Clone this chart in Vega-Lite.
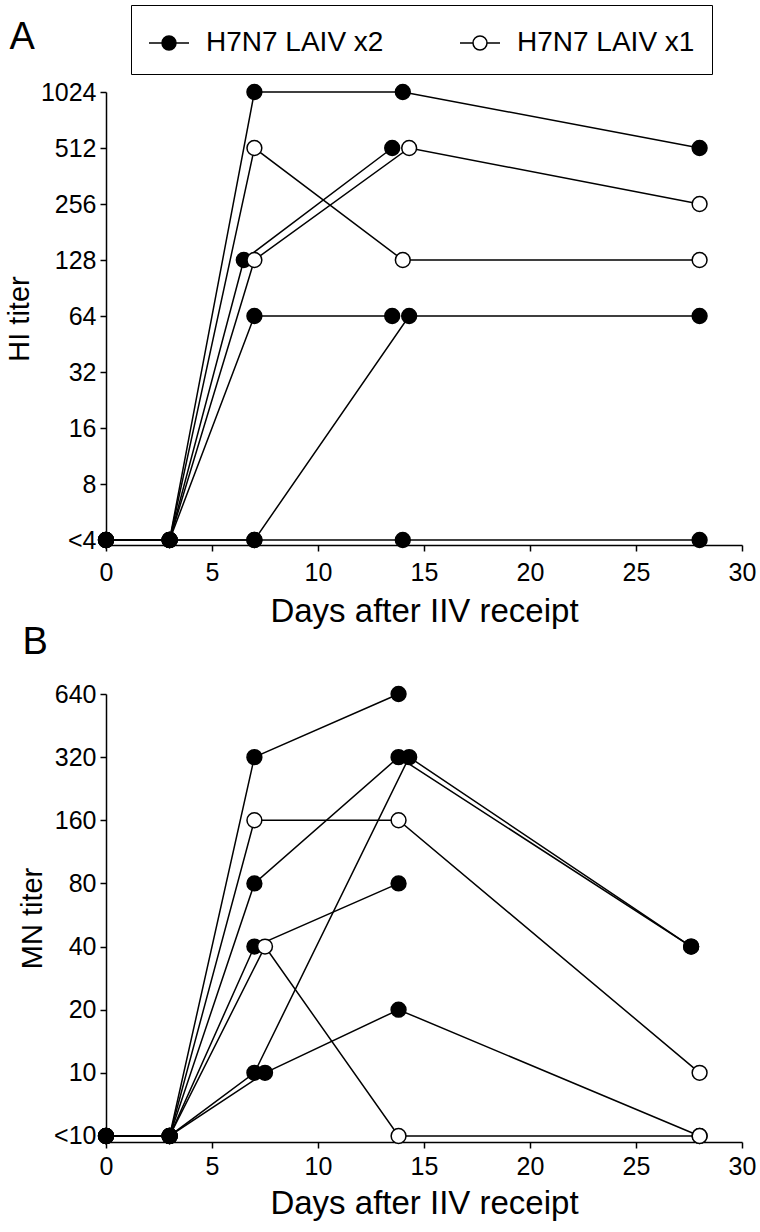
{
  "$schema": "https://vega.github.io/schema/vega-lite/v6.json",
  "background": "white",
  "padding": {"left": 5, "top": 4, "right": 5, "bottom": 5},
  "datasets": {
    "hi": [
      {"subject": "A1", "group": "H7N7 LAIV x2", "day": 0, "titer": 4},
      {"subject": "A1", "group": "H7N7 LAIV x2", "day": 3, "titer": 4},
      {"subject": "A1", "group": "H7N7 LAIV x2", "day": 7, "titer": 1024},
      {"subject": "A1", "group": "H7N7 LAIV x2", "day": 14, "titer": 1024},
      {"subject": "A1", "group": "H7N7 LAIV x2", "day": 28, "titer": 512},
      {"subject": "A2", "group": "H7N7 LAIV x1", "day": 0, "titer": 4},
      {"subject": "A2", "group": "H7N7 LAIV x1", "day": 3, "titer": 4},
      {"subject": "A2", "group": "H7N7 LAIV x1", "day": 7, "titer": 512},
      {"subject": "A2", "group": "H7N7 LAIV x1", "day": 14, "titer": 128},
      {"subject": "A2", "group": "H7N7 LAIV x1", "day": 28, "titer": 128},
      {"subject": "A3", "group": "H7N7 LAIV x2", "day": 0, "titer": 4},
      {"subject": "A3", "group": "H7N7 LAIV x2", "day": 3, "titer": 4},
      {"subject": "A3", "group": "H7N7 LAIV x2", "day": 6.5, "titer": 128},
      {"subject": "A3", "group": "H7N7 LAIV x2", "day": 13.5, "titer": 512},
      {"subject": "A4", "group": "H7N7 LAIV x1", "day": 0, "titer": 4},
      {"subject": "A4", "group": "H7N7 LAIV x1", "day": 3, "titer": 4},
      {"subject": "A4", "group": "H7N7 LAIV x1", "day": 7, "titer": 128},
      {"subject": "A4", "group": "H7N7 LAIV x1", "day": 14.3, "titer": 512},
      {"subject": "A4", "group": "H7N7 LAIV x1", "day": 28, "titer": 256},
      {"subject": "A5", "group": "H7N7 LAIV x2", "day": 0, "titer": 4},
      {"subject": "A5", "group": "H7N7 LAIV x2", "day": 3, "titer": 4},
      {"subject": "A5", "group": "H7N7 LAIV x2", "day": 7, "titer": 64},
      {"subject": "A5", "group": "H7N7 LAIV x2", "day": 13.5, "titer": 64},
      {"subject": "A6", "group": "H7N7 LAIV x2", "day": 0, "titer": 4},
      {"subject": "A6", "group": "H7N7 LAIV x2", "day": 3, "titer": 4},
      {"subject": "A6", "group": "H7N7 LAIV x2", "day": 7, "titer": 4},
      {"subject": "A6", "group": "H7N7 LAIV x2", "day": 14.3, "titer": 64},
      {"subject": "A6", "group": "H7N7 LAIV x2", "day": 28, "titer": 64},
      {"subject": "A7", "group": "H7N7 LAIV x2", "day": 0, "titer": 4},
      {"subject": "A7", "group": "H7N7 LAIV x2", "day": 3, "titer": 4},
      {"subject": "A7", "group": "H7N7 LAIV x2", "day": 7, "titer": 4},
      {"subject": "A7", "group": "H7N7 LAIV x2", "day": 14, "titer": 4},
      {"subject": "A7", "group": "H7N7 LAIV x2", "day": 28, "titer": 4}
    ],
    "mn": [
      {"subject": "B1", "group": "H7N7 LAIV x2", "day": 0, "titer": 5},
      {"subject": "B1", "group": "H7N7 LAIV x2", "day": 3, "titer": 5},
      {"subject": "B1", "group": "H7N7 LAIV x2", "day": 7, "titer": 320},
      {"subject": "B1", "group": "H7N7 LAIV x2", "day": 13.8, "titer": 640},
      {"subject": "B2", "group": "H7N7 LAIV x1", "day": 0, "titer": 5},
      {"subject": "B2", "group": "H7N7 LAIV x1", "day": 3, "titer": 5},
      {"subject": "B2", "group": "H7N7 LAIV x1", "day": 7, "titer": 160},
      {"subject": "B2", "group": "H7N7 LAIV x1", "day": 13.8, "titer": 160},
      {"subject": "B2", "group": "H7N7 LAIV x1", "day": 28, "titer": 10},
      {"subject": "B3", "group": "H7N7 LAIV x2", "day": 0, "titer": 5},
      {"subject": "B3", "group": "H7N7 LAIV x2", "day": 3, "titer": 5},
      {"subject": "B3", "group": "H7N7 LAIV x2", "day": 7, "titer": 80},
      {"subject": "B3", "group": "H7N7 LAIV x2", "day": 13.8, "titer": 320},
      {"subject": "B3", "group": "H7N7 LAIV x2", "day": 27.6, "titer": 40},
      {"subject": "B4", "group": "H7N7 LAIV x2", "day": 0, "titer": 5},
      {"subject": "B4", "group": "H7N7 LAIV x2", "day": 3, "titer": 5},
      {"subject": "B4", "group": "H7N7 LAIV x2", "day": 7, "titer": 10},
      {"subject": "B4", "group": "H7N7 LAIV x2", "day": 14.3, "titer": 320},
      {"subject": "B4", "group": "H7N7 LAIV x2", "day": 27.6, "titer": 40},
      {"subject": "B5", "group": "H7N7 LAIV x2", "day": 0, "titer": 5},
      {"subject": "B5", "group": "H7N7 LAIV x2", "day": 3, "titer": 5},
      {"subject": "B5", "group": "H7N7 LAIV x2", "day": 7.5, "titer": 10},
      {"subject": "B5", "group": "H7N7 LAIV x2", "day": 13.8, "titer": 20},
      {"subject": "B5", "group": "H7N7 LAIV x2", "day": 28, "titer": 5},
      {"subject": "B6", "group": "H7N7 LAIV x2", "day": 0, "titer": 5},
      {"subject": "B6", "group": "H7N7 LAIV x2", "day": 3, "titer": 5},
      {"subject": "B6", "group": "H7N7 LAIV x2", "day": 7, "titer": 40},
      {"subject": "B6", "group": "H7N7 LAIV x2", "day": 13.8, "titer": 80},
      {"subject": "B7", "group": "H7N7 LAIV x1", "day": 0, "titer": 5},
      {"subject": "B7", "group": "H7N7 LAIV x1", "day": 3, "titer": 5},
      {"subject": "B7", "group": "H7N7 LAIV x1", "day": 7.5, "titer": 40},
      {"subject": "B7", "group": "H7N7 LAIV x1", "day": 13.8, "titer": 5},
      {"subject": "B7", "group": "H7N7 LAIV x1", "day": 28, "titer": 5}
    ]
  },
  "resolve": {"legend": {"fill": "independent"}, "scale": {"y": "independent"}},
  "spacing": -4,
  "vconcat": [
    {
      "width": 636,
      "height": 453,
      "data": {"name": "hi"},
      "title": {"text": "A", "offset": -52, "dx": 4},
      "encoding": {
        "x": {"field": "day", "type": "quantitative",
              "scale": {"domain": [0, 30], "nice": false, "zero": false},
              "axis": {"values": [0, 5, 10, 15, 20, 25, 30], "title": "Days after IIV receipt"}},
        "y": {"field": "titer", "type": "quantitative",
              "scale": {"type": "log", "base": 2, "domain": [3.76, 1024], "nice": false},
              "axis": {"values": [4, 8, 16, 32, 64, 128, 256, 512, 1024], "title": "HI titer",
                       "labelExpr": "datum.value == 4 ? '<4' : format(datum.value, 'd')"}}
      },
      "layer": [
        {"mark": {"type": "line", "color": "black", "strokeWidth": 1.5},
         "encoding": {"detail": {"field": "subject"}}},
        {"transform": [{"filter": "datum.group == 'H7N7 LAIV x2'"}],
         "mark": {"type": "point", "shape": "circle", "size": 220, "stroke": "black", "strokeWidth": 1.5, "opacity": 1, "fillOpacity": 1},
         "encoding": {"fill": {"field": "group", "type": "nominal",
            "scale": {"domain": ["H7N7 LAIV x2", "H7N7 LAIV x1"], "range": ["black", "white"]},
            "legend": {"orient": "none", "legendX": 25, "legendY": -87, "direction": "horizontal", "columns": 2,
                       "title": null,
                       "symbolType": "M-1,0L-0.35,0M0.35,0L1,0M0.35,0A0.35,0.35,0,1,1,-0.35,0A0.35,0.35,0,1,1,0.35,0Z",
                       "symbolSize": 1600, "symbolStrokeColor": "black", "symbolStrokeWidth": 1.5,
                       "labelFontSize": 28, "labelFont": "Liberation Sans", "labelColor": "black", "labelLimit": 400,
                       "labelOffset": 16, "columnPadding": 73, "padding": 17,
                       "strokeColor": "black",
                       "encode": {"legend": {"update": {"strokeWidth": {"value": 3}}}}}}}},
        {"transform": [{"filter": "datum.group == 'H7N7 LAIV x1' && datum.day > 3"}],
         "mark": {"type": "point", "shape": "circle", "size": 220, "stroke": "black", "strokeWidth": 1.5, "opacity": 1, "fillOpacity": 1},
         "encoding": {"fill": {"field": "group", "type": "nominal",
            "scale": {"domain": ["H7N7 LAIV x2", "H7N7 LAIV x1"], "range": ["black", "white"]}}}}
      ]
    },
    {
      "width": 636,
      "height": 448,
      "data": {"name": "mn"},
      "title": {"text": "B", "offset": 20, "dx": 4},
      "encoding": {
        "x": {"field": "day", "type": "quantitative",
              "scale": {"domain": [0, 30], "nice": false, "zero": false},
              "axis": {"values": [0, 5, 10, 15, 20, 25, 30], "title": "Days after IIV receipt", "labelPadding": 6, "titlePadding": 8}},
        "y": {"field": "titer", "type": "quantitative",
              "scale": {"type": "log", "base": 2, "domain": [4.68, 640], "nice": false},
              "axis": {"values": [5, 10, 20, 40, 80, 160, 320, 640], "title": "MN titer",
                       "labelExpr": "datum.value == 5 ? '<10' : format(datum.value, 'd')"}}
      },
      "layer": [
        {"mark": {"type": "line", "color": "black", "strokeWidth": 1.5},
         "encoding": {"detail": {"field": "subject"}}},
        {"transform": [{"filter": "datum.group == 'H7N7 LAIV x2'"}],
         "mark": {"type": "point", "shape": "circle", "size": 220, "stroke": "black", "strokeWidth": 1.5, "opacity": 1, "fillOpacity": 1},
         "encoding": {"fill": {"field": "group", "type": "nominal",
            "scale": {"domain": ["H7N7 LAIV x2", "H7N7 LAIV x1"], "range": ["black", "white"]}, "legend": null}}},
        {"transform": [{"filter": "datum.group == 'H7N7 LAIV x1' && datum.day > 3"}],
         "mark": {"type": "point", "shape": "circle", "size": 220, "stroke": "black", "strokeWidth": 1.5, "opacity": 1, "fillOpacity": 1},
         "encoding": {"fill": {"field": "group", "type": "nominal",
            "scale": {"domain": ["H7N7 LAIV x2", "H7N7 LAIV x1"], "range": ["black", "white"]}, "legend": null}}}
      ]
    }
  ],
  "config": {
    "view": {"stroke": null},
    "font": "Liberation Sans",
    "title": {"fontSize": 38, "fontWeight": "normal", "anchor": "start", "frame": "bounds", "font": "Liberation Sans", "color": "black"},
    "axis": {"grid": false, "domainColor": "black", "domainWidth": 1.5, "tickColor": "black", "tickWidth": 1.5, "tickSize": 6,
             "labelFont": "Liberation Sans", "labelFontSize": 25, "labelColor": "black", "labelPadding": 4,
             "titleFont": "Liberation Sans", "titleFontSize": 29, "titleFontWeight": "normal", "titleColor": "black"},
    "axisX": {"titlePadding": 10, "labelPadding": 9, "titleFontSize": 33, "labelFlush": false},
    "axisY": {"titlePadding": 6, "labelFlush": false}
  }
}
